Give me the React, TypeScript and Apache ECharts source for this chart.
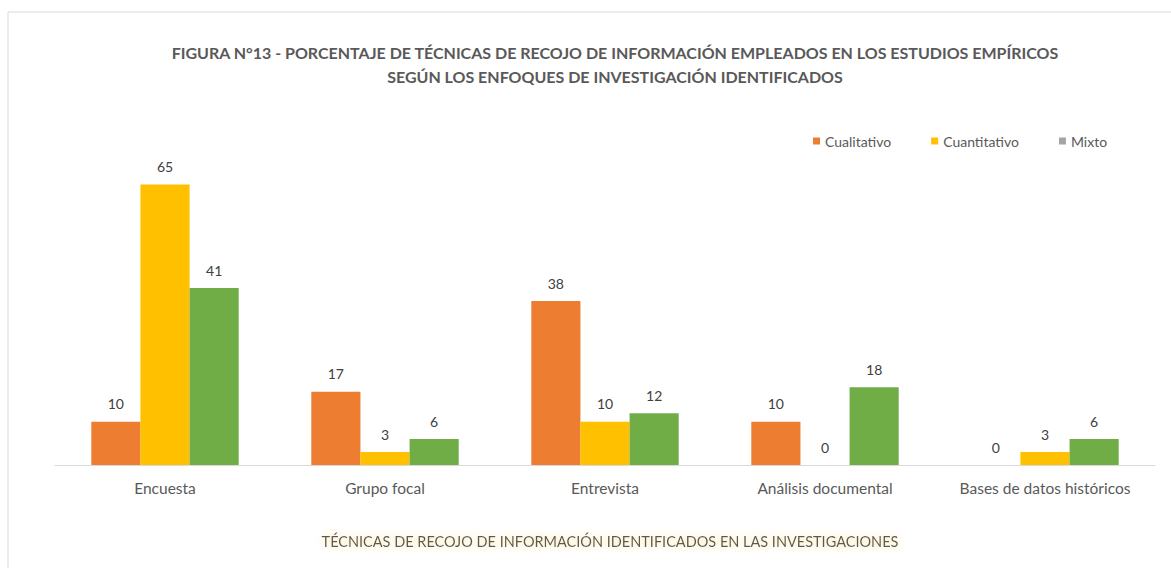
import React, { useEffect, useRef } from "react";
import * as echarts from "echarts";

const categories = ["Encuesta", "Grupo focal", "Entrevista", "Análisis documental", "Bases de datos históricos"];
const cualitativo = [10, 17, 38, 10, 0];
const cuantitativo = [65, 3, 10, 0, 3];
const mixto = [41, 6, 12, 18, 6];
const seriesNames = ["Cualitativo", "Cuantitativo", "Mixto"];

export default function App() {
  const ref = useRef<HTMLDivElement>(null);
  useEffect(() => {
    const chart = echarts.init(ref.current!, null, { renderer: "svg" });
    const font = "Lato, 'Open Sans', sans-serif";
    const label = { show: true, position: "top", distance: 11, color: "#404040", fontSize: 14, fontFamily: font };
    chart.setOption({
      animation: false,
      backgroundColor: "#ffffff",
      title: {
        text: "FIGURA N°13 - PORCENTAJE DE TÉCNICAS DE RECOJO DE INFORMACIÓN EMPLEADOS EN LOS ESTUDIOS EMPÍRICOS\nSEGÚN LOS ENFOQUES DE INVESTIGACIÓN IDENTIFICADOS",
        left: 610,
        textAlign: "center",
        top: 35,
        textStyle: { color: "#595959", fontSize: 16, fontWeight: "bold", fontFamily: font, lineHeight: 24 },
      },
      legend: {
        top: 129,
        left: 808,
        itemWidth: 7,
        itemHeight: 7,
        itemGap: 40,
        icon: "rect",
        textStyle: { color: "#595959", fontSize: 14, fontFamily: font },
        data: [
          { name: "Cualitativo", itemStyle: { color: "#ED7D31" } },
          { name: "Cuantitativo", itemStyle: { color: "#FFC000" } },
          { name: "Mixto", itemStyle: { color: "#A5A5A5" } },
        ],
      },
      graphic: [
        { type: "line", shape: { x1: 8, y1: 12, x2: 1171, y2: 12 }, style: { stroke: "#d9d9d9", lineWidth: 1 } },
        { type: "line", shape: { x1: 8, y1: 12, x2: 8, y2: 568 }, style: { stroke: "#d9d9d9", lineWidth: 1 } },
        {
          type: "text",
          x: 610,
          y: 541,
          style: {
            text: "TÉCNICAS DE RECOJO DE INFORMACIÓN IDENTIFICADOS EN LAS INVESTIGACIONES",
            fill: "#595959",
            fontSize: 14.5,
            fontFamily: font,
            align: "center",
            verticalAlign: "middle",
            textShadowColor: "#FFE08A",
            textShadowBlur: 8,
          },
        },
      ],
      grid: { left: 55, right: 16, top: 163, bottom: 103, containLabel: false },
      xAxis: {
        type: "category",
        data: categories,
        axisLine: { lineStyle: { color: "#d9d9d9" } },
        axisTick: { show: false },
        axisLabel: { color: "#595959", fontSize: 15.5, fontFamily: font, margin: 15, interval: 0 },
      },
      yAxis: { type: "value", min: 0, max: 70, show: false, splitLine: { show: false } },
      series: [
        { name: seriesNames[0], type: "bar", data: cualitativo, itemStyle: { color: "#ED7D31" }, label, barGap: "0%", barCategoryGap: "33%" },
        { name: seriesNames[1], type: "bar", data: cuantitativo, itemStyle: { color: "#FFC000" }, label },
        { name: seriesNames[2], type: "bar", data: mixto, itemStyle: { color: "#70AD47" }, label },
      ],
    });
    return () => chart.dispose();
  }, []);
  return <div ref={ref} style={{ position: "absolute", left: 0, top: 0, width: 1171, height: 568 }} />;
}
